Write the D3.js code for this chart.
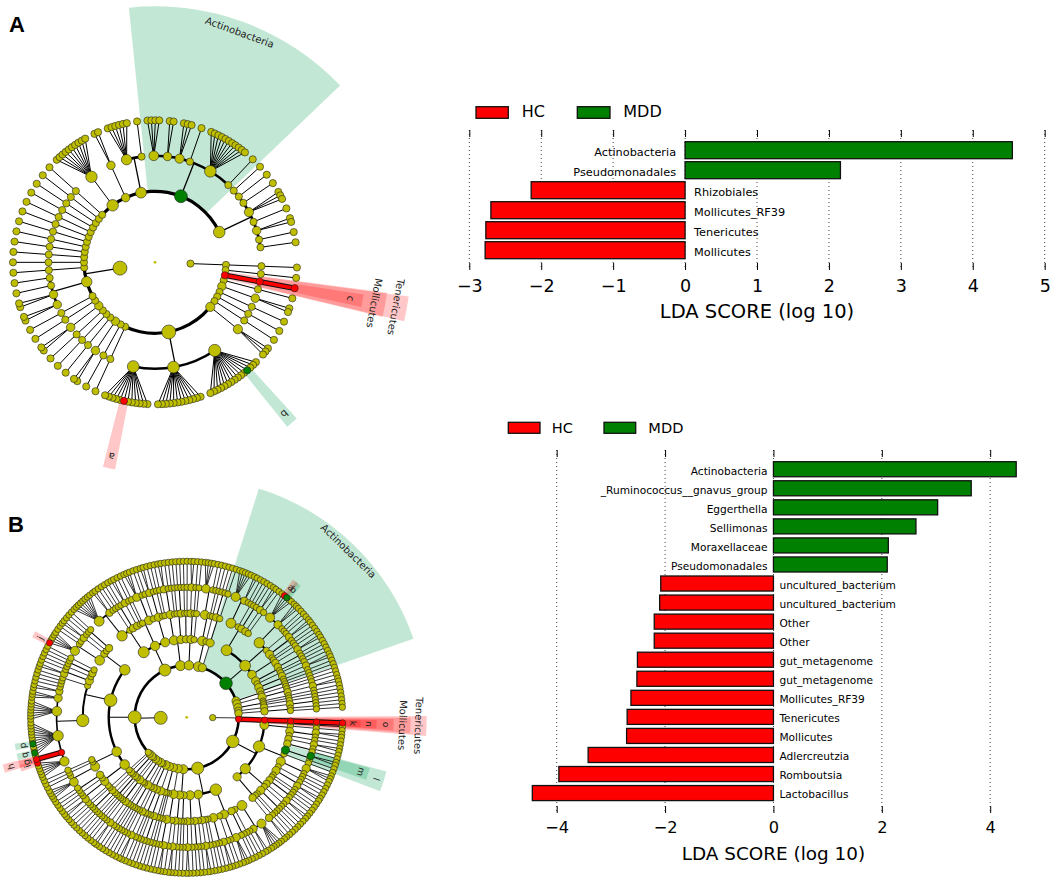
<!DOCTYPE html>
<html lang="en">
<head>
<meta charset="UTF-8">
<title>LEfSe cladograms and LDA scores</title>
<script src="https://cdnjs.cloudflare.com/ajax/libs/d3/7.8.5/d3.min.js"></script>
<style>
  body { margin: 0; background: #fff; }
  text { font-family: "DejaVu Sans", sans-serif; }
  .panel { font-family: "Liberation Sans", Arial, sans-serif; font-weight: bold; font-size: 22px; }
</style>
</head>
<body>
<svg id="fig" width="1052" height="880"></svg>
<script>
// ---- LDA scores ----
var groups = ["HC", "MDD"];
var barColor = {HC: "#ff0000", MDD: "#008000"};

var taxaA = ["Actinobacteria", "Pseudomonadales", "Rhizobiales", "Mollicutes_RF39", "Tenericutes", "Mollicutes"];
var ldaA = [4.55, 2.16, -2.14, -2.70, -2.77, -2.78];
var ticksA = [-3, -2, -1, 0, 1, 2, 3, 4, 5];

var taxaB = ["Actinobacteria", "_Ruminococcus__gnavus_group", "Eggerthella", "Sellimonas", "Moraxellaceae",
  "Pseudomonadales", "uncultured_bacterium", "uncultured_bacterium", "Other", "Other", "gut_metagenome",
  "gut_metagenome", "Mollicutes_RF39", "Tenericutes", "Mollicutes", "Adlercreutzia", "Romboutsia", "Lactobacillus"];
var ldaB = [4.48, 3.65, 3.03, 2.63, 2.12, 2.10, -2.08, -2.10, -2.20, -2.20, -2.51, -2.52, -2.63, -2.70, -2.71, -3.42, -3.96, -4.45];
var ticksB = [-4, -2, 0, 2, 4];

// ---- cladogram A: kingdom > phylum > class > number of orders ----
var archaeaA = [[1]];
var bacteriaA = [
  [1], [1],                                      // 1 = Tenericutes
  [1], [2], [1], [1], [1], [3],
  [15, 12, 12],                                  // 8 = Proteobacteria
  [1], [1], [2], [1], [1], [1], [2], [1], [1],
  [2, 2, 1, 1],                                  // 18 = Firmicutes
  [1], [1], [1], [1], [1], [1], [1], [1], [1], [1], [1], [1],
  [10], [2], [6, 1],
  [4, 2, 3, 1, 11, 1],                           // 34 = Actinobacteria
  [1, 1, 1, 3, 1, 2, 1, 1]
];
var markersA = [
  ["Actinobacteria", "MDD", [1, 34]],
  ["Tenericutes", "HC", [1, 1]],
  ["Mollicutes", "HC", [1, 1, 0]],
  ["c", "HC", [1, 1, 0, 0]],
  ["a", "HC", [1, 8, 2, 6]],
  ["b", "MDD", [1, 8, 0, 3]]
];

// ---- cladogram B: kingdom > phylum > class > order > number of genera per family ----
var archaeaB = [0];
var bacteriaB = [
  [[[1]]],                                                                   // 0 Tenericutes
  [[[1], [1], [2, 1]],
   [[1], [2], [1, 1], [2, 1], [1], [3, 1, 1], [1], [1, 2], [1]],
   [[1], [1, 1], [2], [1], [1, 1, 1], [1]],
   [[1], [2]]],                                                              // 1 Proteobacteria
  [[[5, 2, 1], [1], [1, 1], [3, 1], [1], [2, 1, 1], [1]], [[1], [2], [1]], [[1, 1], [1], [2]]],
  [[[1], [1]], [[1], [2]]],
  [[[1], [2, 1]]],
  [[[1]], [[1]], [[1]]],
  [[[1, 1], [1]]],
  [[[1], [1]], [[2]]],
  [[[1]]],
  [[[1], [1], [1]]],
  [[[1]], [[1]]],
  [[[2], [1]]],
  [[[1]]],
  [[[1], [1]], [[1]]],
  [[[1, 1]]],
  [[[1]]],
  [[[1], [2, 1], [1], [1, 1]],
   [[4, 1], [1], [1]],
   [[6, 1, 12, 7, 3, 2, 1, 1, 1], [1], [2, 1], [1], [1, 1], [1]],
   [[5, 1, 1], [2], [1], [1, 1]]],                                           // 16 Firmicutes
  [[[8, 2, 1], [1], [1, 1], [2]], [[1], [1], [3, 1]], [[1], [2, 1], [1]]],
  [[[1], [2, 1], [1]], [[1], [1, 1]]],
  [[[1], [1]], [[2], [1]], [[1]]],
  [[[4, 1], [1]], [[1]]],
  [[[1, 1], [1]]],
  [[[5, 2, 1], [1], [1, 1], [2], [1]],
   [[5, 3, 1, 1], [1], [2, 1]],
   [[1], [1], [2]], [[1, 1], [1]], [[1]], [[2], [1]]],                      // 22 Actinobacteria
  [[[1], [1]], [[1]]],
  [[[1], [2]]],
  [[[1]], [[1]], [[1]]],
  [[[1, 1]]],
  [[[1], [1]]]
];
var markersB = [
  ["Actinobacteria", "MDD", [1, 22]],
  ["Tenericutes", "HC", [1, 0]],
  ["Mollicutes", "HC", [1, 0, 0]],
  ["o", "HC", [1, 0, 0, 0]],
  ["n", "HC", [1, 0, 0, 0, 0]],
  ["k", "HC", [1, 0, 0, 0, 0, 0]],
  ["l", "MDD", [1, 1, 1, 3]],
  ["m", "MDD", [1, 1, 1, 3, 0]],
  ["b", "MDD", [1, 22, 1, 0, 0, 2]],
  ["a", "HC", [1, 22, 1, 0, 0, 1]],
  ["i", "HC", [1, 16, 2, 0, 0, 5]],
  ["h", "HC", [1, 16, 2, 0, 1]],
  ["g", "HC", [1, 16, 2, 0, 1, 0]],
  ["q", "MDD", [1, 16, 2, 0, 2, 1]],
  ["p", "MDD", [1, 16, 2, 0, 2, 4]],
  ["j", "HC", [1, 16, 3, 0, 0, 0]]
];

var svg = d3.select("#fig");
svg.append("rect").attr("width", 1052).attr("height", 880).attr("fill", "#fff");

// ---------- LDA bar chart ----------
var ldaChart = function (taxa, lda, ticks, o) {
  var g = svg.append("g");
  var x = d3.scaleLinear().domain([ticks[0], ticks[ticks.length - 1]]).range([o.x0, o.x1]);
  var y = d3.scaleBand().domain(d3.range(taxa.length)).range([o.y0, o.y1])
    .paddingInner(o.pad).paddingOuter(o.pad / 2);

  g.selectAll("line.grid").data(ticks).join("line")
    .attr("x1", function (d) { return x(d); }).attr("x2", function (d) { return x(d); })
    .attr("y1", o.g0).attr("y2", o.g1)
    .attr("stroke", "#444").attr("stroke-width", 1).attr("stroke-dasharray", "1,3");

  g.append("g").attr("transform", "translate(0," + o.g0 + ")")
    .call(d3.axisTop(x).tickValues(ticks).tickSize(-7).tickFormat(""))
    .call(function (a) { a.select(".domain").remove(); });

  var ax = g.append("g").attr("transform", "translate(0," + o.g1 + ")")
    .call(d3.axisBottom(x).tickValues(ticks).tickSize(-7).tickPadding(o.tickPad).tickFormat(d3.format("")))
    .call(function (a) { a.select(".domain").remove(); });
  ax.selectAll("text").attr("font-size", o.tickFont);

  g.selectAll("rect.bar").data(lda).join("rect")
    .attr("x", function (d) { return x(Math.min(0, d)); })
    .attr("width", function (d) { return Math.abs(x(d) - x(0)); })
    .attr("y", function (d, i) { return y(i); })
    .attr("height", y.bandwidth())
    .attr("fill", function (d) { return d > 0 ? barColor.MDD : barColor.HC; })
    .attr("stroke", "#111").attr("stroke-width", 1.3);

  g.selectAll("text.lab").data(lda).join("text")
    .attr("x", function (d) { return d > 0 ? x(0) - o.labGap : x(0) + o.labGap; })
    .attr("y", function (d, i) { return y(i) + y.bandwidth() / 2; })
    .attr("dy", o.labDy)
    .attr("text-anchor", function (d) { return d > 0 ? "end" : "start"; })
    .attr("font-size", o.labFont)
    .text(function (d, i) { return taxa[i]; });

  g.append("text").attr("x", (o.x0 + o.x1) / 2).attr("y", o.axisY)
    .attr("text-anchor", "middle").attr("font-size", o.axisFont)
    .text("LDA SCORE (log 10)");

  groups.forEach(function (k, i) {
    g.append("rect").attr("x", o.leg[i][0]).attr("y", o.legY)
      .attr("width", o.leg[i][1]).attr("height", o.legH)
      .attr("fill", barColor[k]).attr("stroke", "#111").attr("stroke-width", 1.3);
    g.append("text").attr("x", o.leg[i][2]).attr("y", o.legBase)
      .attr("font-size", o.legFont).text(k);
  });
};

ldaChart(taxaA, ldaA, ticksA, {
  x0: 469.3, x1: 1044.7, y0: 140.2, y1: 260.2, pad: 0.15, g0: 130, g1: 270,
  tickPad: 9.6, tickFont: 17.5, labFont: 11.3, labGap: 9, labDy: "0.5em",
  axisFont: 19.5, axisY: 318, legY: 106.7, legH: 11.6, legBase: 117.3, legFont: 16,
  leg: [[476, 32.3, 521.7], [577.3, 32.7, 623.3]]
});
ldaChart(taxaB, ldaB, ticksB, {
  x0: 556.7, x1: 990.2, y0: 459.7, y1: 802.6, pad: 0.21, g0: 450, g1: 813,
  tickPad: 8.6, tickFont: 16.2, labFont: 10.6, labGap: 6, labDy: "0.5em",
  axisFont: 18.4, axisY: 860, legY: 422.3, legH: 11, legBase: 433.3, legFont: 14.6,
  leg: [[508.3, 31.7, 551.7], [604, 31.7, 648.3]]
});

// ---------- cladogram ----------
var toNode = function (spec) {
  if (typeof spec === "number") return {children: d3.range(spec).map(function () { return {}; })};
  return {children: spec.map(toNode)};
};

var cladogram = function (spec, markers, o) {
  var rad = Math.PI / 180;
  var pt = function (r, a) { return [o.cx + r * Math.sin(a * rad), o.cy - r * Math.cos(a * rad)]; };
  var root = d3.hierarchy(toNode(spec)).count();
  d3.cluster().size([o.span, 1]).separation(o.sep)(root);
  // a parent sits midway between its first and last child
  root.eachAfter(function (d) {
    if (d.children) d.x = (d.children[0].x + d.children[d.children.length - 1].x) / 2;
  });
  root.each(function (d) { d.a = o.start + d.x; d.r = d.depth * o.step; });
  var size = d3.scaleLog().domain([1, o.bigN]).range(o.nodeR).clamp(true);

  var mk = markers.map(function (m) {
    var n = root;
    m[2].forEach(function (i) { n = n.children[i]; });
    n.cls = m[1];
    return {label: m[0], cls: m[1], node: n};
  });

  var g = svg.append("g");
  var arc = d3.arc();
  var center = "translate(" + o.cx + "," + o.cy + ")";

  // shaded sectors with labels
  mk.slice().sort(function (a, b) { return a.node.depth - b.node.depth; }).forEach(function (m) {
    var n = m.node, lv = n.depth - 2;
    var a0 = d3.min(n.leaves(), function (l) { return l.a; }) - o.pad[lv];
    var a1 = d3.max(n.leaves(), function (l) { return l.a; }) + o.pad[lv];
    g.append("path").attr("transform", center)
      .attr("d", arc({innerRadius: n.r - 1.5, outerRadius: o.outer[lv], startAngle: a0 * rad, endAngle: a1 * rad}))
      .attr("fill", o.shade[m.cls]).attr("fill-opacity", o.shadeOp[m.cls]);
    var am = (a0 + a1) / 2;
    var p = pt(o.outer[lv] - (m.label.length > 1 ? o.nameOff : o.letterOff), am);
    g.append("text").attr("transform", "translate(" + p + ") rotate(" + am + ")")
      .attr("text-anchor", "middle").attr("dy", "0.35em")
      .attr("font-size", m.label.length > 1 ? o.nameFont : o.letterFont)
      .attr("fill", "#222").text(m.label);
  });

  // branches
  var lineG = g.append("g").attr("stroke", "#000").attr("fill", "none");
  var arcG = g.append("g").attr("transform", center).attr("fill", "#000");
  var hot = [];
  root.each(function (d) {
    if (!d.children || d.depth === 0) return;
    var kids = d.children;
    var fan = kids.length === 1 || kids.every(function (k) { return !k.children; });
    if (fan) {
      kids.forEach(function (k) {
        var p0 = pt(d.r, d.a), p1 = pt(k.r, k.a);
        lineG.append("line").attr("x1", p0[0]).attr("y1", p0[1]).attr("x2", p1[0]).attr("y2", p1[1])
          .attr("stroke-width", o.lw);
        if (d.cls && d.cls === k.cls) hot.push([p0, p1, d.cls]);
      });
    } else {
      var rc = d.r + o.step, w = o.arcW[d.depth];
      var p0 = pt(d.r, d.a), p1 = pt(rc, d.a);
      lineG.append("line").attr("x1", p0[0]).attr("y1", p0[1]).attr("x2", p1[0]).attr("y2", p1[1])
        .attr("stroke-width", o.lw * 1.3);
      var lo = d3.min(kids, function (k) { return k.a; }), hi = d3.max(kids, function (k) { return k.a; });
      arcG.append("path").attr("d", arc({innerRadius: rc - w / 2, outerRadius: rc + w / 2,
        startAngle: lo * rad, endAngle: hi * rad}));
    }
  });
  hot.forEach(function (h) {
    g.append("line").attr("x1", h[0][0]).attr("y1", h[0][1]).attr("x2", h[1][0]).attr("y2", h[1][1])
      .attr("stroke", "#111").attr("stroke-width", 5.5).attr("stroke-linecap", "round");
    g.append("line").attr("x1", h[0][0]).attr("y1", h[0][1]).attr("x2", h[1][0]).attr("y2", h[1][1])
      .attr("stroke", barColor[h[2]]).attr("stroke-width", 3.5).attr("stroke-linecap", "round");
  });

  // nodes
  var nodes = root.descendants().filter(function (d) { return d.depth > 0; })
    .sort(function (a, b) { return (a.cls ? 1 : 0) - (b.cls ? 1 : 0) || b.depth - a.depth; });
  g.append("g").selectAll("circle").data(nodes).join("circle")
    .attr("cx", function (d) { return pt(d.r, d.a)[0]; })
    .attr("cy", function (d) { return pt(d.r, d.a)[1]; })
    .attr("r", function (d) { return size(d.value); })
    .attr("fill", function (d) { return d.cls ? barColor[d.cls] : "#bfbf00"; })
    .attr("stroke", "#222").attr("stroke-width", 0.6);
  g.append("circle").attr("cx", o.cx).attr("cy", o.cy).attr("r", 1.4).attr("fill", "#bfbf00");
};

cladogram([archaeaA, bacteriaA], markersA, {
  cx: 155, cy: 262.3, step: 35.5, start: 90, span: 354,
  sep: function (a, b) { return a.parent === b.parent ? 0.38 : 1; },
  bigN: 40, nodeR: [3.6, 7], lw: 1, arcW: {1: 3.2, 2: 2.6, 3: 2},
  outer: [256, 234, 211], pad: [2.8, 3, 1.7],
  shade: {HC: "#ff0000", MDD: "#00a050"}, shadeOp: {HC: 0.22, MDD: 0.24},
  nameOff: 11, letterOff: 12, nameFont: 10, letterFont: 10
});

cladogram([archaeaB, bacteriaB], markersB, {
  cx: 186.7, cy: 717.3, step: 26, start: 90, span: 357,
  sep: function (a, b) { return a.parent === b.parent ? 1 : 1.25; },
  bigN: 50, nodeR: [3.2, 6.5], lw: 0.8, arcW: {1: 2.6, 2: 2.4, 3: 2, 4: 1.6, 5: 1.2},
  outer: [240, 224, 207, 190, 174], pad: [2.4, 2, 1.6, 1.3, 1.1],
  shade: {HC: "#ff0000", MDD: "#00a050"}, shadeOp: {HC: 0.22, MDD: 0.24},
  nameOff: 8, letterOff: 7.5, nameFont: 10, letterFont: 9
});

svg.append("text").attr("class", "panel").attr("x", 9).attr("y", 31.7).text("A");
svg.append("text").attr("class", "panel").attr("x", 8).attr("y", 531.7).text("B");
</script>
</body>
</html>
